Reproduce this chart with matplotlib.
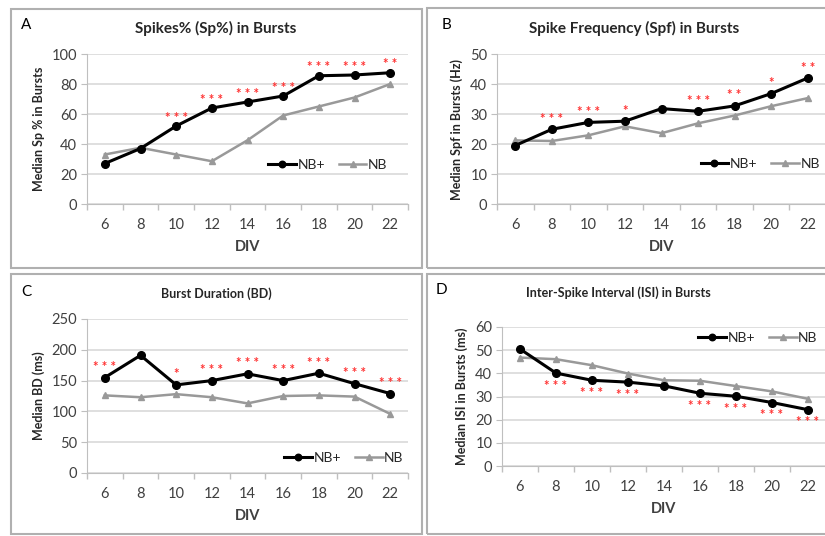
import matplotlib
matplotlib.use('Agg')
import matplotlib.pyplot as plt
from matplotlib.patches import Rectangle

plt.rcParams['font.family'] = ['Lato', 'DejaVu Sans']

div = [6, 8, 10, 12, 14, 16, 18, 20, 22]

sp_nbplus = [27, 37, 52, 64, 68, 72, 85.5, 86, 87.5]
sp_nb = [33, 37.5, 33, 28.5, 42.5, 59, 65, 71, 80]
sp_stars = ['', '', '***', '***', '***', '***', '***', '***', '**']

spf_nbplus = [19.5, 24.9, 27.2, 27.6, 31.8, 30.9, 32.7, 36.8, 42]
spf_nb = [21.2, 21, 22.9, 25.9, 23.6, 26.9, 29.5, 32.6, 35.3]
spf_stars = ['', '***', '***', '*', '', '***', '**', '*', '**']

bd_nbplus = [155, 191, 143, 150, 161, 150, 162, 145, 129]
bd_nb = [126, 123, 128, 123, 113, 125, 126, 124, 96]
bd_stars = ['***', '', '*', '***', '***', '***', '***', '***', '***']

isi_nbplus = [50.5, 40.1, 37, 36.2, 34.6, 31.4, 30.1, 27.4, 24.3]
isi_nb = [46.8, 46.1, 43.5, 39.9, 37, 36.8, 34.5, 32.2, 29]
isi_stars = ['', '***', '***', '***', '', '***', '***', '***', '***']

W, H = 825, 536
fig = plt.figure(figsize=(W / 100, H / 100), dpi=100)

# panel frames (pixels: x0, y0, x1, y1)
for x0, y0, x1, y1 in [(11, 9, 422, 268), (427, 8, 830, 268),
                       (11, 274, 422, 534), (427, 274, 830, 534)]:
    fig.patches.append(Rectangle((x0 / W, 1 - y1 / H), (x1 - x0) / W, (y1 - y0) / H,
                                 transform=fig.transFigure, fill=False,
                                 edgecolor='#b0b0b0', linewidth=1.5))


def panel(rect, letter, letter_xy, title, title_xy, title_size, ylabel,
          nbplus, nb, stars, ymax, ystep, star_off, leg_loc):
    l, t, r, b = rect
    ax = fig.add_axes([l / W, 1 - b / H, (r - l) / W, (b - t) / H])
    x = list(range(len(div)))
    ax.plot(x, nbplus, color='black', lw=2.2, marker='o', ms=5.5, label='NB+', zorder=4)
    ax.plot(x, nb, color='#999999', lw=1.8, marker='^', ms=4.5, label='NB', zorder=3)
    for xi, yi, s in zip(x, nbplus, stars):
        if s:
            ax.annotate(' '.join(s), (xi, yi), xytext=(0, star_off), textcoords='offset points',
                        ha='center', va='center', color='#ff3030', fontsize=9.5,
                        fontweight='bold')
    ax.set_xlim(-0.5, len(div) - 0.5)
    ax.set_ylim(0, ymax)
    ax.set_yticks(range(0, ymax + 1, ystep))
    ax.set_xticks(x)
    ax.set_xticklabels([str(d) for d in div])
    ax.set_xticks([i - 0.5 for i in range(len(div) + 1)], minor=True)
    ax.tick_params(axis='x', which='major', length=0, pad=10, labelsize=10.5, colors='#404040')
    ax.tick_params(axis='x', which='minor', length=4, color='#bfbfbf', width=1)
    ax.tick_params(axis='y', length=4, color='#bfbfbf', labelsize=10.5, colors='#404040', pad=3)
    ax.grid(axis='y', color='#d9d9d9', lw=1.2)
    ax.set_axisbelow(True)
    for s in ['top', 'right']:
        ax.spines[s].set_visible(False)
    for s in ['left', 'bottom']:
        ax.spines[s].set_color('#bfbfbf')
    ax.set_xlabel('DIV', fontweight='bold', fontsize=10.5, color='#404040', labelpad=6)
    ax.set_ylabel(ylabel, fontweight='bold', fontsize=9, color='#262626', labelpad=5)
    ax.legend(loc='center', bbox_to_anchor=leg_loc, ncol=2, frameon=False,
              fontsize=10, handlelength=2.0, columnspacing=1.0, handletextpad=0.1,
              labelcolor='#262626', markerscale=0.85)
    fig.text(letter_xy[0] / W, 1 - letter_xy[1] / H, letter, fontsize=11,
             ha='center', va='center')
    fig.text(title_xy[0] / W, 1 - title_xy[1] / H, title, fontsize=title_size,
             fontweight='bold', ha='center', va='center', color='#262626')
    return ax


panel((87, 54, 408, 204), 'A', (26, 25), 'Spikes% (Sp%) in Bursts', (216, 28), 11,
      'Median Sp % in Bursts', sp_nbplus, sp_nb, sp_stars, 100, 20, 6, (0.75, 0.26))
panel((497, 54, 826, 204), 'B', (446, 25), 'Spike Frequency (Spf) in Bursts', (634, 28), 11,
      'Median Spf in Bursts (Hz)', spf_nbplus, spf_nb, spf_stars, 50, 10, 7.5, (0.80, 0.27))
panel((87, 319, 408, 473), 'C', (26, 292), 'Burst Duration (BD)', (216, 294), 9,
      'Median BD (ms)', bd_nbplus, bd_nb, bd_stars, 250, 50, 7.5, (0.80, 0.10))
panel((502, 327, 826, 466), 'D', (441, 290), 'Inter-Spike Interval (ISI) in Bursts', (618, 293), 9,
      'Median ISI in Bursts (ms)', isi_nbplus, isi_nb, isi_stars, 60, 10, -9, (0.79, 0.92))

fig.savefig('out.png', dpi=100)
